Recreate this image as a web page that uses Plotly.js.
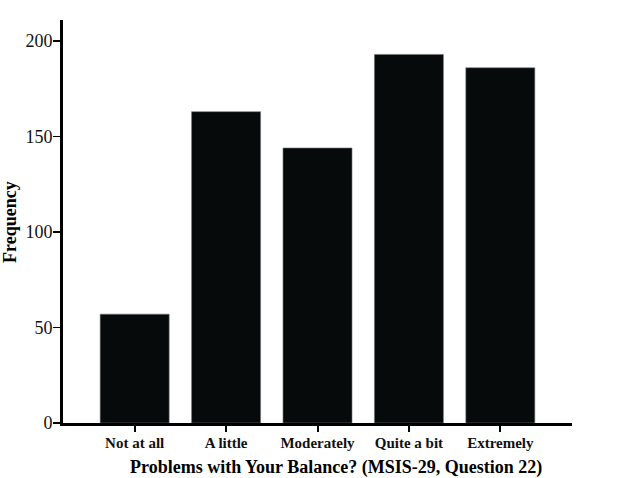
<!DOCTYPE html>
<html>
<head>
<meta charset="utf-8">
<script src="https://cdn.plot.ly/plotly-3.0.1.min.js"></script>
<style>html,body{margin:0;padding:0;background:#fff;}#chart{width:627px;height:478px;}</style>
</head>
<body>
<div id="chart"></div>
<script>
const categories = ["Not at all", "A little", "Moderately", "Quite a bit", "Extremely"];
const frequency = [57, 163, 144, 193, 186];
const yTickValues = [0, 50, 100, 150, 200];
const xTitle = "Problems with Your Balance? (MSIS-29, Question 22)";
const yTitle = "Frequency";

const serif = "'Liberation Serif', 'Times New Roman', serif";

const trace = {
  type: "bar",
  x: categories,
  y: frequency,
  marker: {color: "#060a0b", line: {color: "#777", width: 0.6}},
  hoverinfo: "x+y"
};

const layout = {
  width: 627,
  height: 478,
  margin: {l: 63, r: 55, t: 20, b: 55},
  paper_bgcolor: "#ffffff",
  plot_bgcolor: "#ffffff",
  bargap: 0.245,
  showlegend: false,
  xaxis: {
    type: "category",
    range: [-0.784, 4.784],
    tickvals: categories,
    ticktext: categories.map(c => "<b>" + c + "</b>"),
    showline: true,
    linecolor: "#000",
    linewidth: 3,
    ticks: "outside",
    ticklen: 6,
    tickwidth: 2,
    tickcolor: "#000",
    ticklabelstandoff: -2,
    showgrid: false,
    zeroline: false,
    tickfont: {family: serif, size: 15, color: "#111"}
  },
  yaxis: {
    range: [0, 211],
    tickvals: yTickValues,
    ticktext: yTickValues.map(String),
    showline: true,
    linecolor: "#000",
    linewidth: 3,
    ticks: "outside",
    ticklen: 7,
    tickwidth: 1.5,
    tickcolor: "#000",
    ticklabelstandoff: -3,
    showgrid: false,
    zeroline: false,
    tickfont: {family: serif, size: 18, color: "#111"}
  },
  annotations: [
    {
      text: "<b>" + xTitle + "</b>",
      xref: "paper", yref: "paper",
      x: 0.536, y: -0.11,
      xanchor: "center", yanchor: "middle",
      showarrow: false,
      font: {family: serif, size: 18, color: "#000"}
    },
    {
      text: "<b>" + yTitle + "</b>",
      xref: "paper", yref: "paper",
      x: -0.104, y: 0.499,
      xanchor: "center", yanchor: "middle",
      textangle: -90,
      showarrow: false,
      font: {family: serif, size: 18, color: "#000"}
    }
  ]
};

Plotly.newPlot("chart", [trace], layout, {displayModeBar: false, staticPlot: true});
</script>
</body>
</html>
